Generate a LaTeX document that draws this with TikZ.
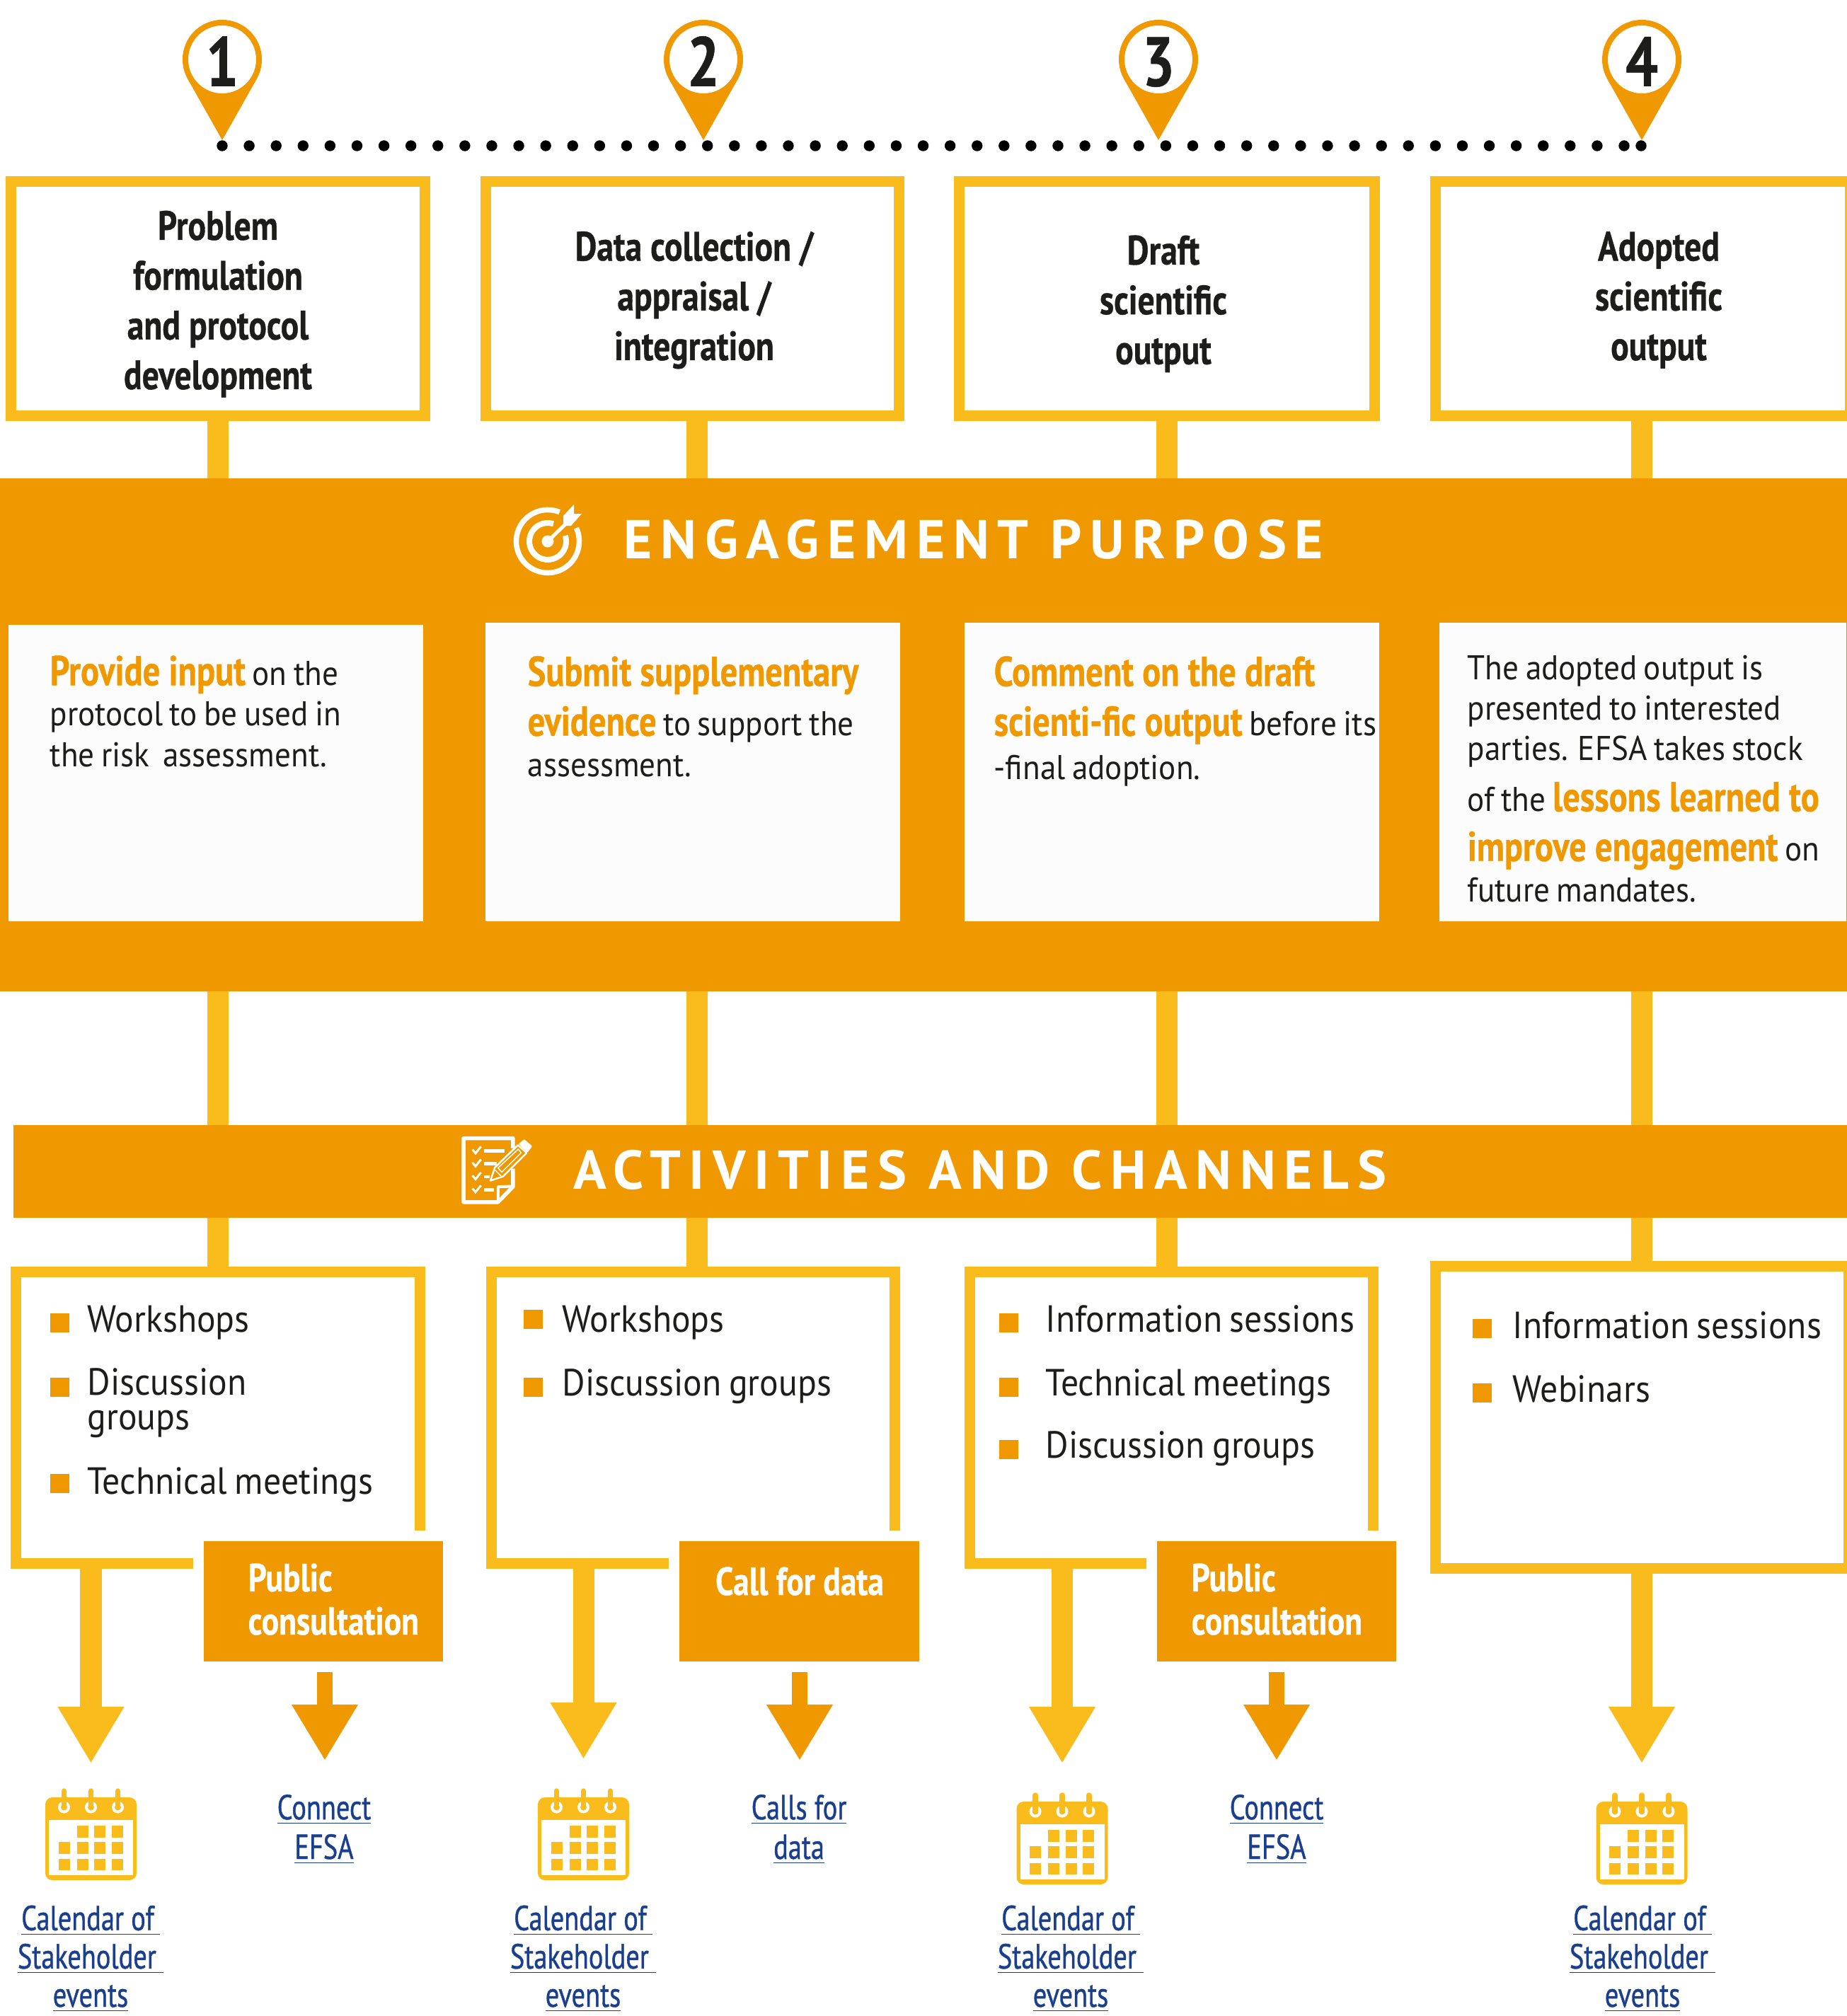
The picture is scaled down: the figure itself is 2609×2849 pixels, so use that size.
\documentclass[tikz,border=0pt]{standalone}
\usepackage{fontspec}
\usetikzlibrary{arrows.meta,calc}
\setmainfont{PT Sans}
\newfontfamily\bodyf[FakeStretch=0.93,WordSpace=0.8]{PT Sans}
\newfontfamily\headf[FakeStretch=0.82,BoldFeatures={FakeBold=0.6}]{PT Sans}
\newfontfamily\linkf[FakeStretch=0.78,FakeBold=0.8]{PT Sans}
\newfontfamily\bandf[FakeStretch=1.0,LetterSpace=15]{PT Sans}
\definecolor{yel}{HTML}{FABB1D}
\definecolor{org}{HTML}{F09800}
\definecolor{ink}{HTML}{1D1D1B}
\definecolor{panelc}{HTML}{FCFCFC}
\definecolor{lnk}{HTML}{1B3F8F}
\newcommand\hl[1]{{\color{org}\headf\bfseries\fontsize{16.8}{16.3}\selectfont #1}}
\tikzset{
  tbox/.style={draw=yel,line width=.15cm,fill=white,minimum height=3.31cm,inner sep=0,outer sep=0},
  tlabel/.style={text=ink,align=center,inner sep=0,font=\headf\bfseries\fontsize{16.5}{20}\selectfont},
  band/.style={fill=org,inner sep=0,outer sep=0},
  bandtitle/.style={text=white,inner sep=0,font=\bandf\bfseries\fontsize{22}{24}\selectfont},
  panel/.style={fill=panelc,inner sep=0,outer sep=0},
  ptext/.style={text=ink,align=left,inner sep=0,font=\bodyf\fontsize{13.8}{16.3}\selectfont},
  conn/.style={yel,line width=.3cm},
  abox/.style={inner sep=0,outer sep=0},
  item/.style={text=ink,inner sep=0,align=left,font=\bodyf\fontsize{15.2}{13.7}\selectfont},
  bull/.style={fill=org,inner sep=0,outer sep=0,minimum width=.27cm,minimum height=.27cm},
  chan/.style={fill=org,inner sep=0,outer sep=0,minimum height=1.7cm},
  chantext/.style={text=white,inner sep=0,align=left,font=\headf\bfseries\fontsize{15.8}{17.4}\selectfont},
  link/.style={text=lnk,inner sep=0,align=center,font=\linkf\fontsize{14}{15.9}\selectfont},
  linktight/.style={link,font=\linkf\fontsize{14}{15.4}\selectfont},
  yarrow/.style={yel,line width=.3cm,-{Triangle[length=.8cm,width=.88cm]}},
  oarrow/.style={org,line width=.22cm,-{Triangle[length=.79cm,width=.88cm]},shorten <=.15cm},
  pinhead/.style={circle,draw=org,fill=white,line width=.08cm,minimum size=1.04cm,inner sep=0,outer sep=0,text=ink,
    text height=.75cm,text depth=0cm,font=\headf\bfseries\fontsize{28}{28}\selectfont},
}
\newcommand\pin[3]{%
  \coordinate (tip#1) at (#2,198);
  \fill[org] ($(#2,111.5)+(-48.8,0)$) -- (tip#1) -- ($(#2,111.5)+(48.8,0)$) -- cycle;
  \node[pinhead] (pin#1) at (#2,84) {#3};
}
\newcommand\calicon[2]{%
  \begin{scope}[shift={(#1,#2)}]
    \fill[yel,rounded corners=.1cm] (-64.5,12) rectangle (64.5,129);
    \fill[white] (-59.5,44) rectangle (59.5,122);
    \foreach \cx in {-38,0,38}{
      \fill[white] (\cx,26) circle (.085cm);
      \fill[yel] (\cx,26) circle (.045cm);
      \draw[yel,line width=.075cm,line cap=round] (\cx,3) -- (\cx,24);
    }
    \foreach \cx in {-20,4.5,29} \fill[yel] (\cx,52) rectangle +(16,16.5);
    \foreach \cx in {-46,-20,4.5,29}{
      \fill[yel] (\cx,75) rectangle +(16,16.5);
      \fill[yel] (\cx,98.5) rectangle +(16,16.5);
    }
  \end{scope}
}
\begin{document}
\begin{tikzpicture}[x=0.01cm,y=-0.01cm]
\useasboundingbox (0,0) rectangle (2609,2849);
% column lines
\coordinate (c1) at (308,0);
\coordinate (c2) at (985,0);
\coordinate (c3) at (1649,0);
\coordinate (c4) at (2320,0);
% dotted timeline
\foreach \i in {0,...,52} \fill[black] (314+38.096*\i,206) circle (.077cm);
\fill[black] (2319,206) circle (.077cm);
% pins
\pin{1}{314}{1}
\pin{2}{994}{2}
\pin{3}{1637}{3}
\pin{4}{2320}{4}
% top boxes
\node[tbox,minimum width=5.85cm] (t1) at (308,422) {};
\node[tbox,minimum width=5.84cm] (t2) at (978.5,422) {};
\node[tbox,minimum width=5.87cm] (t3) at (1649,422) {};
\node[tbox,minimum width=5.86cm] (t4) at (2321.5,422) {};
\node[tlabel,anchor=base] (t1t) at (308,550) {Problem\\formulation\\and protocol\\development};
\node[tlabel,anchor=base] (t2t) at (981,509) {Data collection /\\appraisal /\\integration};
\node[tlabel,anchor=base] (t3t) at (1644,514.5) {Draft\\scientific\\output};
\node[tlabel,anchor=base] (t4t) at (2344,509) {Adopted\\scientific\\output};
% bands
\node[band,minimum width=26.09cm,minimum height=7.25cm] (b1) at (1304.5,1038.5) {};
\node[band,minimum width=25.89cm,minimum height=1.31cm] (b2) at (1314.5,1655.5) {};
% activity box nodes
\node[abox,minimum width=5.86cm,minimum height=4.27cm] (a1) at (308,2003.5) {};
\node[abox,minimum width=5.86cm,minimum height=4.27cm] (a2) at (979,2003.5) {};
\node[abox,minimum width=5.85cm,minimum height=4.27cm] (a3) at (1655.5,2003.5) {};
\node[abox,minimum width=5.88cm,minimum height=4.42cm] (a4) at (2315,2003) {};
% connectors
\foreach \k/\tp/\ac in {1/t1/a1,2/t2/a2,3/t3/a3,4/t4/a4}{
  \draw[conn] (c\k |- \tp.south) -- (c\k |- b1.north);
  \draw[conn] (c\k |- b1.south) -- (c\k |- b2.north);
  \draw[conn] (c\k |- b2.south) -- (c\k |- \ac.north);
}
% panels
\node[panel,minimum width=5.86cm,minimum height=4.19cm] (p1) at (305,1092.5) {};
\node[panel,minimum width=5.86cm,minimum height=4.22cm] (p2) at (979,1091) {};
\node[panel,minimum width=5.86cm,minimum height=4.22cm] (p3) at (1656,1091) {};
\node[panel,minimum width=5.75cm,minimum height=4.22cm] (p4) at (2321.5,1091) {};
\node[ptext,anchor=base west] (p1t) at (70,1083) {\hl{Provide input} on the\\protocol to be used in\\the risk\ \ assessment.};
\node[ptext,anchor=base west] (p2t) at (745,1097) {\hl{Submit supplementary}\\[3.7pt]\hl{evidence} to support the\\assessment.};
\node[ptext,anchor=base west] (p3t) at (1404,1101) {\hl{Comment on the draft}\\[3.7pt]\hl{scienti-fic output} before its\\[1.1pt]-final adoption.};
\node[ptext,anchor=base west] (p4t) at (2073,1274) {The adopted output is\\presented to interested\\parties. EFSA takes stock\\[4pt]of the \hl{lessons learned to}\\[3.7pt]\hl{improve engagement} on\\future mandates.};
% band titles and icons
\node[bandtitle,anchor=base west] (b1t) at (881,789) {ENGAGEMENT PURPOSE};
\node[bandtitle,anchor=base west] (b2t) at (810,1680) {ACTIVITIES AND CHANNELS};
% target icon
\coordinate (tg) at (774,765);
\begin{scope}[white]
  \draw[line width=.075cm] ([shift=(68:.445cm)]tg) arc[start angle=68,end angle=385,radius=.445cm];
  \draw[line width=.08cm] ([shift=(72:.26cm)]tg) arc[start angle=72,end angle=378,radius=.26cm];
  \fill (tg) circle (.085cm);
  \draw[line width=.05cm] (tg) -- ($(tg)+(33,-32)$);
  \fill ($(tg)+(22,-22)$) -- ($(tg)+(22,-36)$) -- ($(tg)+(37,-52)$) -- ($(tg)+(37,-39)$) -- ($(tg)+(48,-39)$) -- ($(tg)+(33,-22)$) -- cycle;
\end{scope}
% checklist icon
\begin{scope}[shift={(600,1550)},x=0.004464cm,y=-0.003333cm]
  \draw[white,line width=.055cm,line join=round] (279,218) -- (279,176) -- (123,176) -- (123,447) -- (232,447) -- (279,382) -- (279,305);
  \draw[white,line width=.04cm,line join=round] (232,447) -- (232,382) -- (279,380);
  \foreach \yy in {0,55,110,165}{
    \draw[white,line width=.03cm] (151,224+\yy) -- (161,240+\yy) -- (178,211+\yy);
  }
  \fill[white] (187,222) rectangle (253,236);
  \fill[white] (187,277) rectangle (228,292);
  \fill[white] (187,333) rectangle (205,347);
  \fill[white] (187,388) rectangle (220,402);
  \draw[white,line width=.025cm,line join=round] (222,300) -- (295,205) -- (322,238) -- (248,338) -- (208,356) -- cycle;
  \draw[white,line width=.015cm] (232,302) -- (296,222) -- (305,238) -- (244,320) -- cycle;
  \draw[white,line width=.015cm] (222,310) -- (244,340);
  \fill[white,rounded corners=.01cm] (297,200) -- (315,180) -- (340,210) -- (325,237) -- cycle;
\end{scope}
% activity box borders
\draw[yel,line width=.15cm,line join=miter] (593.5,2163) -- (593.5,1797.5) -- (22.5,1797.5) -- (22.5,2209.5) -- (273,2209.5);
\draw[yel,line width=.15cm] (1264.5,2163) -- (1264.5,1797.5) -- (694,1797.5) -- (694,2209.5) -- (945,2209.5);
\draw[yel,line width=.15cm] (1940.5,2163) -- (1940.5,1797.5) -- (1370.5,1797.5) -- (1370.5,2209.5) -- (1620,2209.5);
\draw[yel,line width=.15cm] (2028.5,1789.5) rectangle (2612,2216.5);
% items
\node[bull] (b11) at (84.5,1869.5) {};
\node[bull] (b12) at (84.5,1960.5) {};
\node[bull] (b13) at (84.5,2096.5) {};
\node[item,anchor=base west] (i11) at (123,1882) {Workshops};
\node[item,anchor=base west] (i12) at (123,2020) {Discussion\\groups};
\node[item,anchor=base west] (i13) at (123,2111) {Technical meetings};
\node[bull] (b21) at (753.5,1864.5) {};
\node[bull] (b22) at (753.5,1960.5) {};
\node[item,anchor=base west] (i21) at (794,1882) {Workshops};
\node[item,anchor=base west] (i22) at (794,1972) {Discussion groups};
\node[bull] (b31) at (1425.5,1869.5) {};
\node[bull] (b32) at (1425.5,1960.5) {};
\node[bull] (b33) at (1425.5,2048.5) {};
\node[item,anchor=base west] (i31) at (1477,1882) {Information sessions};
\node[item,anchor=base west] (i32) at (1477,1972) {Technical meetings};
\node[item,anchor=base west] (i33) at (1477,2060) {Discussion groups};
\node[bull] (b41) at (2094.5,1877.5) {};
\node[bull] (b42) at (2094.5,1968.5) {};
\node[item,anchor=base west] (i41) at (2137,1891) {Information sessions};
\node[item,anchor=base west] (i42) at (2137,1981) {Webinars};
% channel boxes
\node[chan,minimum width=3.38cm] (k1) at (457,2263) {};
\node[chan,minimum width=3.39cm] (k2) at (1129.5,2263) {};
\node[chan,minimum width=3.38cm] (k3) at (1804,2263) {};
\node[chantext,anchor=base west] (k1t) at (350,2310) {Public\\consultation};
\node[chantext,anchor=base] (k2t) at (1130,2254) {Call for data};
\node[chantext,anchor=base west] (k3t) at (1683,2310) {Public\\consultation};
% arrows
\coordinate (ya1) at (128.5,2492);
\coordinate (ya2) at (824.5,2486);
\coordinate (ya3) at (1501,2492);
\coordinate (ya4) at (2320,2492);
\coordinate (oa1) at (459,2488);
\coordinate (oa2) at (1130,2488);
\coordinate (oa3) at (1804,2488);
\draw[yarrow] (ya1 |- a1.south) -- (ya1);
\draw[yarrow] (ya2 |- a2.south) -- (ya2);
\draw[yarrow] (ya3 |- a3.south) -- (ya3);
\draw[yarrow] (ya4 |- a4.south) -- (ya4);
\draw[oarrow] (oa1 |- k1.south) -- (oa1);
\draw[oarrow] (oa2 |- k2.south) -- (oa2);
\draw[oarrow] (oa3 |- k3.south) -- (oa3);
% calendars
\calicon{128.5}{2528}
\calicon{824.5}{2528}
\calicon{1501}{2534}
\calicon{2320}{2534}
% links
\node[link,anchor=base] (l1) at (458,2627) {\underline{Connect}\\\underline{EFSA}};
\node[link,anchor=base] (l2) at (1129,2627) {\underline{Calls for}\\\underline{data}};
\node[link,anchor=base] (l3) at (1804,2627) {\underline{Connect}\\\underline{EFSA}};
\node[linktight,anchor=base] (m1) at (128,2836) {\underline{Calendar of\,}\\\underline{Stakeholder\ }\\\underline{events}};
\node[linktight,anchor=base] (m2) at (824,2836) {\underline{Calendar of\,}\\\underline{Stakeholder\ }\\\underline{events}};
\node[linktight,anchor=base] (m3) at (1513,2836) {\underline{Calendar of\,}\\\underline{Stakeholder\ }\\\underline{events}};
\node[linktight,anchor=base] (m4) at (2321,2836) {\underline{Calendar of\,}\\\underline{Stakeholder\ }\\\underline{events}};
\end{tikzpicture}
\end{document}
